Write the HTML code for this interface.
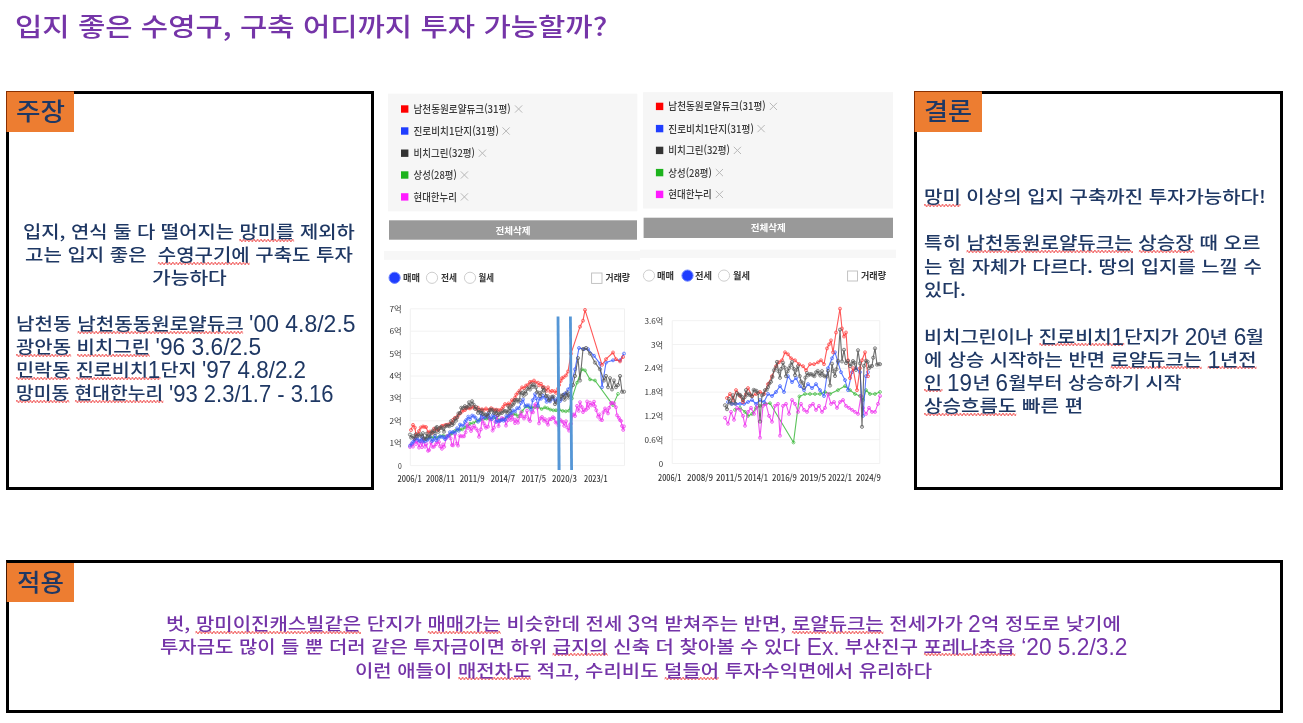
<!DOCTYPE html><html lang="ko"><head><meta charset="utf-8"><title>slide</title><style>
*{box-sizing:border-box;margin:0;padding:0}
html,body{width:1303px;height:723px;overflow:hidden;background:#fff}
body{position:relative;font-family:"Liberation Sans","Noto Sans CJK KR",sans-serif}
.ln{position:absolute;white-space:nowrap;line-height:30px;height:30px;transform-origin:0 0;font-family:"Noto Sans CJK KR","Liberation Sans",sans-serif;font-weight:500}
.l{display:inline-block;font-family:"Liberation Sans","Noto Sans CJK KR",sans-serif;font-size:1.36em;line-height:1;vertical-align:-0.09em;transform:scaleX(0.84);transform-origin:0 0}
.sp{background-image:radial-gradient(circle at 0.9px 0.9px,#f37575 0.7px,transparent 1.0px),radial-gradient(circle at 2.4px 2.1px,#f37575 0.7px,transparent 1.0px);background-size:3px 3px;background-repeat:repeat-x;background-position:0 calc(100% - 1.4px)}


.box{position:absolute;border:3px solid #000;background:#fff}
.tag{position:absolute;background:#ED7D31}

</style></head><body>

<div class="box" style="left:6px;top:91px;width:368px;height:399px"></div>
<div class="tag" style="left:6px;top:91px;width:68px;height:41px;border-top:1px solid #8a3000;border-left:1px solid #8a3000"></div>
<div class="box" style="left:914px;top:91px;width:369px;height:399px"></div>
<div class="tag" style="left:914px;top:91px;width:68px;height:41px;border-top:1px solid #8a3000;border-left:1px solid #8a3000"></div>
<div class="box" style="left:6px;top:560px;width:1277px;height:153px"></div>
<div class="tag" style="left:6px;top:560px;width:68px;height:42px;border-top:3px solid #000;border-left:1px solid #4a1a00"></div>
<svg id="ch" width="1303" height="723" viewBox="0 0 1303 723" style="position:absolute;left:0;top:0" font-family="'Noto Sans CJK KR','Liberation Sans',sans-serif"><rect x="388.0" y="93.7" width="249.3" height="117.6" fill="#f6f6f6"/>
<rect x="401.0" y="105.3" width="7.4" height="7.4" fill="#ff0000"/>
<text x="413.5" y="112.9" font-size="10.6" fill="#3a3a3a" textLength="97.3" lengthAdjust="spacingAndGlyphs" font-weight="500">남천동원로얄듀크(31평)</text>
<path d="M515.0 105.4L522.2 112.6M515.0 112.6L522.2 105.4" stroke="#b8b8b8" stroke-width="1" fill="none"/>
<rect x="401.0" y="127.3" width="7.4" height="7.4" fill="#1f3dff"/>
<text x="413.5" y="134.9" font-size="10.6" fill="#3a3a3a" textLength="85.4" lengthAdjust="spacingAndGlyphs" font-weight="500">진로비치1단지(31평)</text>
<path d="M502.5 127.4L509.7 134.6M502.5 134.6L509.7 127.4" stroke="#b8b8b8" stroke-width="1" fill="none"/>
<rect x="401.0" y="149.5" width="7.4" height="7.4" fill="#333333"/>
<text x="413.5" y="157.1" font-size="10.6" fill="#3a3a3a" textLength="61.5" lengthAdjust="spacingAndGlyphs" font-weight="500">비치그린(32평)</text>
<path d="M478.8 149.6L486.0 156.8M478.8 156.8L486.0 149.6" stroke="#b8b8b8" stroke-width="1" fill="none"/>
<rect x="401.0" y="171.3" width="7.4" height="7.4" fill="#1db31d"/>
<text x="413.5" y="178.9" font-size="10.6" fill="#3a3a3a" textLength="43.3" lengthAdjust="spacingAndGlyphs" font-weight="500">상성(28평)</text>
<path d="M460.8 171.4L468.0 178.6M460.8 178.6L468.0 171.4" stroke="#b8b8b8" stroke-width="1" fill="none"/>
<rect x="401.0" y="193.2" width="7.4" height="7.4" fill="#ff1aff"/>
<text x="413.5" y="200.8" font-size="10.6" fill="#3a3a3a" textLength="43.3" lengthAdjust="spacingAndGlyphs" font-weight="500">현대한누리</text>
<path d="M460.8 193.3L468.0 200.5M460.8 200.5L468.0 193.3" stroke="#b8b8b8" stroke-width="1" fill="none"/>
<rect x="389.0" y="220.3" width="248.0" height="19.4" fill="#999999"/>
<text x="513.0" y="233.6" font-size="9.5" fill="#ffffff" text-anchor="middle" font-weight="700">전체삭제</text>
<rect x="384.0" y="251.0" width="256.0" height="8.8" fill="#f7f7f7"/>
<circle cx="394.6" cy="277.8" r="5.6" fill="#1f3dff" stroke="#6f86ff" stroke-width="1"/>
<text x="403.0" y="281.2" font-size="9.6" fill="#333" textLength="17.0" lengthAdjust="spacingAndGlyphs" font-weight="700">매매</text>
<circle cx="432.0" cy="277.8" r="5.6" fill="#fff" stroke="#c8c8c8" stroke-width="0.9"/>
<text x="441.0" y="281.2" font-size="9.6" fill="#333" textLength="16.0" lengthAdjust="spacingAndGlyphs" font-weight="700">전세</text>
<circle cx="470.0" cy="277.8" r="5.6" fill="#fff" stroke="#c8c8c8" stroke-width="0.9"/>
<text x="478.5" y="281.2" font-size="9.6" fill="#333" textLength="15.5" lengthAdjust="spacingAndGlyphs" font-weight="700">월세</text>
<rect x="591.6" y="273.0" width="10.4" height="10.4" fill="#fff" stroke="#bdbdbd" stroke-width="0.9"/>
<text x="605.6" y="281.2" font-size="9.6" fill="#333" textLength="24.4" lengthAdjust="spacingAndGlyphs" font-weight="700">거래량</text>
<rect x="643.1" y="92.2" width="249.9" height="116.3" fill="#f6f6f6"/>
<rect x="655.9" y="102.7" width="7.4" height="7.4" fill="#ff0000"/>
<text x="668.3" y="110.3" font-size="10.6" fill="#3a3a3a" textLength="97.5" lengthAdjust="spacingAndGlyphs" font-weight="500">남천동원로얄듀크(31평)</text>
<path d="M769.8 102.8L777.0 110.0M769.8 110.0L777.0 102.8" stroke="#b8b8b8" stroke-width="1" fill="none"/>
<rect x="655.9" y="124.9" width="7.4" height="7.4" fill="#1f3dff"/>
<text x="668.3" y="132.5" font-size="10.6" fill="#3a3a3a" textLength="85.6" lengthAdjust="spacingAndGlyphs" font-weight="500">진로비치1단지(31평)</text>
<path d="M757.5 125.0L764.7 132.2M757.5 132.2L764.7 125.0" stroke="#b8b8b8" stroke-width="1" fill="none"/>
<rect x="655.9" y="146.7" width="7.4" height="7.4" fill="#333333"/>
<text x="668.3" y="154.3" font-size="10.6" fill="#3a3a3a" textLength="61.7" lengthAdjust="spacingAndGlyphs" font-weight="500">비치그린(32평)</text>
<path d="M733.8 146.8L741.0 154.0M733.8 154.0L741.0 146.8" stroke="#b8b8b8" stroke-width="1" fill="none"/>
<rect x="655.9" y="168.9" width="7.4" height="7.4" fill="#1db31d"/>
<text x="668.3" y="176.5" font-size="10.6" fill="#3a3a3a" textLength="43.5" lengthAdjust="spacingAndGlyphs" font-weight="500">상성(28평)</text>
<path d="M715.8 169.0L723.0 176.2M715.8 176.2L723.0 169.0" stroke="#b8b8b8" stroke-width="1" fill="none"/>
<rect x="655.9" y="190.7" width="7.4" height="7.4" fill="#ff1aff"/>
<text x="668.3" y="198.3" font-size="10.6" fill="#3a3a3a" textLength="43.5" lengthAdjust="spacingAndGlyphs" font-weight="500">현대한누리</text>
<path d="M715.8 190.8L723.0 198.0M715.8 198.0L723.0 190.8" stroke="#b8b8b8" stroke-width="1" fill="none"/>
<rect x="643.6" y="217.7" width="249.4" height="20.3" fill="#999999"/>
<text x="768.3" y="231.4" font-size="9.5" fill="#ffffff" text-anchor="middle" font-weight="700">전체삭제</text>
<rect x="640.0" y="249.6" width="256.0" height="8.4" fill="#f7f7f7"/>
<circle cx="649.0" cy="275.6" r="5.6" fill="#fff" stroke="#c8c8c8" stroke-width="0.9"/>
<text x="657.0" y="279.0" font-size="9.6" fill="#333" textLength="17.0" lengthAdjust="spacingAndGlyphs" font-weight="700">매매</text>
<circle cx="687.5" cy="275.6" r="5.6" fill="#1f3dff" stroke="#6f86ff" stroke-width="1"/>
<text x="695.0" y="279.0" font-size="9.6" fill="#333" textLength="17.0" lengthAdjust="spacingAndGlyphs" font-weight="700">전세</text>
<circle cx="724.0" cy="275.6" r="5.6" fill="#fff" stroke="#c8c8c8" stroke-width="0.9"/>
<text x="733.0" y="279.0" font-size="9.6" fill="#333" textLength="17.0" lengthAdjust="spacingAndGlyphs" font-weight="700">월세</text>
<rect x="847.6" y="271.0" width="9.9" height="10.0" fill="#fff" stroke="#bdbdbd" stroke-width="0.9"/>
<text x="861.0" y="279.0" font-size="9.6" fill="#333" textLength="25.0" lengthAdjust="spacingAndGlyphs" font-weight="700">거래량</text>
<line x1="410.3" y1="308.8" x2="624.5" y2="308.8" stroke="#f2f2f2" stroke-width="1"/>
<line x1="410.3" y1="331.2" x2="624.5" y2="331.2" stroke="#f2f2f2" stroke-width="1"/>
<line x1="410.3" y1="353.6" x2="624.5" y2="353.6" stroke="#f2f2f2" stroke-width="1"/>
<line x1="410.3" y1="376.0" x2="624.5" y2="376.0" stroke="#f2f2f2" stroke-width="1"/>
<line x1="410.3" y1="398.4" x2="624.5" y2="398.4" stroke="#f2f2f2" stroke-width="1"/>
<line x1="410.3" y1="420.8" x2="624.5" y2="420.8" stroke="#f2f2f2" stroke-width="1"/>
<line x1="410.3" y1="443.2" x2="624.5" y2="443.2" stroke="#f2f2f2" stroke-width="1"/>
<line x1="410.3" y1="465.6" x2="624.5" y2="465.6" stroke="#f2f2f2" stroke-width="1"/>
<text x="389.5" y="311.8" font-size="7.8" fill="#333" textLength="12.2" lengthAdjust="spacingAndGlyphs" font-weight="400">7억</text>
<text x="389.5" y="334.2" font-size="7.8" fill="#333" textLength="12.2" lengthAdjust="spacingAndGlyphs" font-weight="400">6억</text>
<text x="389.5" y="356.6" font-size="7.8" fill="#333" textLength="12.2" lengthAdjust="spacingAndGlyphs" font-weight="400">5억</text>
<text x="389.5" y="379.0" font-size="7.8" fill="#333" textLength="12.2" lengthAdjust="spacingAndGlyphs" font-weight="400">4억</text>
<text x="389.5" y="401.4" font-size="7.8" fill="#333" textLength="12.2" lengthAdjust="spacingAndGlyphs" font-weight="400">3억</text>
<text x="389.5" y="423.8" font-size="7.8" fill="#333" textLength="12.2" lengthAdjust="spacingAndGlyphs" font-weight="400">2억</text>
<text x="389.5" y="446.2" font-size="7.8" fill="#333" textLength="12.2" lengthAdjust="spacingAndGlyphs" font-weight="400">1억</text>
<text x="398.0" y="468.6" font-size="7.8" fill="#333" textLength="3.8" lengthAdjust="spacingAndGlyphs" font-weight="400">0</text>
<line x1="410.3" y1="308.8" x2="410.3" y2="465.6" stroke="#f0f0f0" stroke-width="1"/>
<line x1="624.5" y1="308.8" x2="624.5" y2="465.6" stroke="#f0f0f0" stroke-width="1"/>
<text x="397.5" y="481.6" font-size="8.6" fill="#333" textLength="24.2" lengthAdjust="spacingAndGlyphs" font-weight="500">2006/1</text>
<text x="426.0" y="481.6" font-size="8.6" fill="#333" textLength="28.7" lengthAdjust="spacingAndGlyphs" font-weight="500">2008/11</text>
<text x="459.7" y="481.6" font-size="8.6" fill="#333" textLength="24.9" lengthAdjust="spacingAndGlyphs" font-weight="500">2011/9</text>
<text x="490.8" y="481.6" font-size="8.6" fill="#333" textLength="24.2" lengthAdjust="spacingAndGlyphs" font-weight="500">2014/7</text>
<text x="521.5" y="481.6" font-size="8.6" fill="#333" textLength="24.5" lengthAdjust="spacingAndGlyphs" font-weight="500">2017/5</text>
<text x="552.0" y="481.6" font-size="8.6" fill="#333" textLength="25.0" lengthAdjust="spacingAndGlyphs" font-weight="500">2020/3</text>
<text x="584.0" y="481.6" font-size="8.6" fill="#333" textLength="23.6" lengthAdjust="spacingAndGlyphs" font-weight="500">2023/1</text>
<polyline points="425.0,438.8 427.8,438.0 430.0,437.7 433.4,437.2 436.7,437.6 440.0,436.2 443.1,435.5 446.4,436.2 450.0,434.7 452.2,433.2 455.0,430.9 457.6,429.8 460.0,429.5 462.2,429.4 465.0,427.5 467.3,426.3 470.0,423.6 473.3,423.0 476.9,420.9 480.0,419.6 483.3,419.0 486.6,418.6 490.0,419.1 493.6,417.8 496.8,418.5 500.0,420.1 503.2,418.8 506.8,417.7 510.0,415.4 512.6,414.4 515.5,414.2 518.0,416.3 522.0,411.4 526.0,406.4 529.3,407.4 531.7,407.6 535.0,407.1 538.2,407.1 541.6,409.0 545.0,407.4 547.5,408.2 550.3,409.6 553.4,410.3 556.0,410.3 559.2,409.7 562.6,410.9 565.8,411.3 569.0,410.7 572.0,398.4 577.0,382.7 582.0,369.3 585.0,370.4 590.0,379.4 595.0,380.5 613.0,405.1 618.0,393.9" fill="none" stroke="#3cb83c" stroke-width="1.1" stroke-linejoin="round" opacity="0.85"/>
<g fill="none" stroke="#3cb83c" stroke-width="0.9" opacity="0.8"><circle cx="425.0" cy="438.8" r="1.4"/><circle cx="427.8" cy="438.0" r="1.4"/><circle cx="430.0" cy="437.7" r="1.4"/><circle cx="433.4" cy="437.2" r="1.4"/><circle cx="436.7" cy="437.6" r="1.4"/><circle cx="440.0" cy="436.2" r="1.4"/><circle cx="443.1" cy="435.5" r="1.4"/><circle cx="446.4" cy="436.2" r="1.4"/><circle cx="450.0" cy="434.7" r="1.4"/><circle cx="452.2" cy="433.2" r="1.4"/><circle cx="455.0" cy="430.9" r="1.4"/><circle cx="457.6" cy="429.8" r="1.4"/><circle cx="460.0" cy="429.5" r="1.4"/><circle cx="462.2" cy="429.4" r="1.4"/><circle cx="465.0" cy="427.5" r="1.4"/><circle cx="467.3" cy="426.3" r="1.4"/><circle cx="470.0" cy="423.6" r="1.4"/><circle cx="473.3" cy="423.0" r="1.4"/><circle cx="476.9" cy="420.9" r="1.4"/><circle cx="480.0" cy="419.6" r="1.4"/><circle cx="483.3" cy="419.0" r="1.4"/><circle cx="486.6" cy="418.6" r="1.4"/><circle cx="490.0" cy="419.1" r="1.4"/><circle cx="493.6" cy="417.8" r="1.4"/><circle cx="496.8" cy="418.5" r="1.4"/><circle cx="500.0" cy="420.1" r="1.4"/><circle cx="503.2" cy="418.8" r="1.4"/><circle cx="506.8" cy="417.7" r="1.4"/><circle cx="510.0" cy="415.4" r="1.4"/><circle cx="512.6" cy="414.4" r="1.4"/><circle cx="515.5" cy="414.2" r="1.4"/><circle cx="518.0" cy="416.3" r="1.4"/><circle cx="522.0" cy="411.4" r="1.4"/><circle cx="526.0" cy="406.4" r="1.4"/><circle cx="529.3" cy="407.4" r="1.4"/><circle cx="531.7" cy="407.6" r="1.4"/><circle cx="535.0" cy="407.1" r="1.4"/><circle cx="538.2" cy="407.1" r="1.4"/><circle cx="541.6" cy="409.0" r="1.4"/><circle cx="545.0" cy="407.4" r="1.4"/><circle cx="547.5" cy="408.2" r="1.4"/><circle cx="550.3" cy="409.6" r="1.4"/><circle cx="553.4" cy="410.3" r="1.4"/><circle cx="556.0" cy="410.3" r="1.4"/><circle cx="559.2" cy="409.7" r="1.4"/><circle cx="562.6" cy="410.9" r="1.4"/><circle cx="565.8" cy="411.3" r="1.4"/><circle cx="569.0" cy="410.7" r="1.4"/><circle cx="572.0" cy="398.4" r="1.4"/><circle cx="577.0" cy="382.7" r="1.4"/><circle cx="582.0" cy="369.3" r="1.4"/><circle cx="585.0" cy="370.4" r="1.4"/><circle cx="590.0" cy="379.4" r="1.4"/><circle cx="595.0" cy="380.5" r="1.4"/><circle cx="613.0" cy="405.1" r="1.4"/><circle cx="618.0" cy="393.9" r="1.4"/></g>
<polyline points="410.0,447.0 411.2,444.5 413.0,446.6 414.8,438.6 416.0,444.0 417.2,440.5 419.0,447.6 420.6,441.4 422.0,447.1 423.2,438.9 425.0,446.7 426.3,443.9 428.0,450.8 429.1,450.2 431.0,442.4 432.6,446.9 434.0,446.7 436.0,444.2 437.0,442.2 438.9,441.9 440.0,446.3 441.9,448.8 443.0,444.5 444.2,446.8 446.0,438.6 447.2,436.1 449.0,435.4 450.6,438.3 452.0,445.1 453.0,445.4 455.0,434.2 456.7,443.5 458.0,445.6 459.6,435.5 461.0,436.3 462.7,436.3 464.0,436.3 465.6,432.4 467.0,424.0 468.3,428.1 470.0,426.8 471.0,431.0 473.0,427.6 474.1,425.8 476.0,428.5 477.6,430.5 479.0,436.8 480.9,429.4 482.0,418.3 483.7,423.2 485.0,425.6 486.0,427.7 488.0,426.7 489.7,419.0 491.0,419.6 492.6,430.6 494.0,427.7 495.3,421.9 497.0,415.9 498.5,426.1 500.0,420.7 501.7,418.0 503.0,418.8 504.9,419.6 506.0,425.6 507.9,420.1 509.0,416.0 510.8,419.9 512.0,415.0 513.6,419.5 515.0,423.1 516.6,419.4 518.0,422.7 520.0,416.1 521.0,412.6 522.4,416.3 524.0,418.5 525.4,416.6 527.0,410.7 528.8,419.3 530.0,421.0 531.5,412.0 533.0,412.3 534.5,405.4 536.0,404.0 537.3,407.7 539.0,423.4 540.7,418.3 542.0,417.0 543.9,420.7 545.0,419.2 546.9,422.5 548.0,424.7 549.2,419.2 551.0,419.2 552.9,417.2 554.0,418.2 555.6,422.5 557.0,422.6 558.5,425.5 560.0,419.7 561.7,421.3 563.0,422.0 564.2,425.8 566.0,421.3 567.2,427.5 569.0,430.6 570.0,424.6 571.0,423.7 573.0,414.7 574.0,414.5 575.0,416.0 577.0,405.9 578.7,410.8 580.0,402.2 581.8,407.0 583.0,412.1 584.5,409.8 586.0,409.8 587.1,401.5 588.2,407.9 590.0,402.7 591.5,405.3 593.0,404.0 594.0,401.7 595.0,406.3 596.3,410.2 598.0,416.7 599.5,414.4 600.4,419.5 602.0,420.1 603.5,412.1 605.0,408.5 606.4,410.4 608.0,413.4 609.1,407.8 611.0,403.1 612.1,402.9 614.0,403.3 615.9,407.2 617.0,415.3 618.9,417.9 620.0,420.1 621.0,420.9 622.0,426.0 623.2,429.9 624.0,426.4" fill="none" stroke="#ee33ee" stroke-width="1.1" stroke-linejoin="round" opacity="0.85"/>
<g fill="none" stroke="#ee33ee" stroke-width="0.9" opacity="0.8"><circle cx="410.0" cy="447.0" r="1.5"/><circle cx="411.2" cy="444.5" r="1.5"/><circle cx="413.0" cy="446.6" r="1.5"/><circle cx="414.8" cy="438.6" r="1.5"/><circle cx="416.0" cy="444.0" r="1.5"/><circle cx="417.2" cy="440.5" r="1.5"/><circle cx="419.0" cy="447.6" r="1.5"/><circle cx="420.6" cy="441.4" r="1.5"/><circle cx="422.0" cy="447.1" r="1.5"/><circle cx="423.2" cy="438.9" r="1.5"/><circle cx="425.0" cy="446.7" r="1.5"/><circle cx="426.3" cy="443.9" r="1.5"/><circle cx="428.0" cy="450.8" r="1.5"/><circle cx="429.1" cy="450.2" r="1.5"/><circle cx="431.0" cy="442.4" r="1.5"/><circle cx="432.6" cy="446.9" r="1.5"/><circle cx="434.0" cy="446.7" r="1.5"/><circle cx="436.0" cy="444.2" r="1.5"/><circle cx="437.0" cy="442.2" r="1.5"/><circle cx="438.9" cy="441.9" r="1.5"/><circle cx="440.0" cy="446.3" r="1.5"/><circle cx="441.9" cy="448.8" r="1.5"/><circle cx="443.0" cy="444.5" r="1.5"/><circle cx="444.2" cy="446.8" r="1.5"/><circle cx="446.0" cy="438.6" r="1.5"/><circle cx="447.2" cy="436.1" r="1.5"/><circle cx="449.0" cy="435.4" r="1.5"/><circle cx="450.6" cy="438.3" r="1.5"/><circle cx="452.0" cy="445.1" r="1.5"/><circle cx="453.0" cy="445.4" r="1.5"/><circle cx="455.0" cy="434.2" r="1.5"/><circle cx="456.7" cy="443.5" r="1.5"/><circle cx="458.0" cy="445.6" r="1.5"/><circle cx="459.6" cy="435.5" r="1.5"/><circle cx="461.0" cy="436.3" r="1.5"/><circle cx="462.7" cy="436.3" r="1.5"/><circle cx="464.0" cy="436.3" r="1.5"/><circle cx="465.6" cy="432.4" r="1.5"/><circle cx="467.0" cy="424.0" r="1.5"/><circle cx="468.3" cy="428.1" r="1.5"/><circle cx="470.0" cy="426.8" r="1.5"/><circle cx="471.0" cy="431.0" r="1.5"/><circle cx="473.0" cy="427.6" r="1.5"/><circle cx="474.1" cy="425.8" r="1.5"/><circle cx="476.0" cy="428.5" r="1.5"/><circle cx="477.6" cy="430.5" r="1.5"/><circle cx="479.0" cy="436.8" r="1.5"/><circle cx="480.9" cy="429.4" r="1.5"/><circle cx="482.0" cy="418.3" r="1.5"/><circle cx="483.7" cy="423.2" r="1.5"/><circle cx="485.0" cy="425.6" r="1.5"/><circle cx="486.0" cy="427.7" r="1.5"/><circle cx="488.0" cy="426.7" r="1.5"/><circle cx="489.7" cy="419.0" r="1.5"/><circle cx="491.0" cy="419.6" r="1.5"/><circle cx="492.6" cy="430.6" r="1.5"/><circle cx="494.0" cy="427.7" r="1.5"/><circle cx="495.3" cy="421.9" r="1.5"/><circle cx="497.0" cy="415.9" r="1.5"/><circle cx="498.5" cy="426.1" r="1.5"/><circle cx="500.0" cy="420.7" r="1.5"/><circle cx="501.7" cy="418.0" r="1.5"/><circle cx="503.0" cy="418.8" r="1.5"/><circle cx="504.9" cy="419.6" r="1.5"/><circle cx="506.0" cy="425.6" r="1.5"/><circle cx="507.9" cy="420.1" r="1.5"/><circle cx="509.0" cy="416.0" r="1.5"/><circle cx="510.8" cy="419.9" r="1.5"/><circle cx="512.0" cy="415.0" r="1.5"/><circle cx="513.6" cy="419.5" r="1.5"/><circle cx="515.0" cy="423.1" r="1.5"/><circle cx="516.6" cy="419.4" r="1.5"/><circle cx="518.0" cy="422.7" r="1.5"/><circle cx="520.0" cy="416.1" r="1.5"/><circle cx="521.0" cy="412.6" r="1.5"/><circle cx="522.4" cy="416.3" r="1.5"/><circle cx="524.0" cy="418.5" r="1.5"/><circle cx="525.4" cy="416.6" r="1.5"/><circle cx="527.0" cy="410.7" r="1.5"/><circle cx="528.8" cy="419.3" r="1.5"/><circle cx="530.0" cy="421.0" r="1.5"/><circle cx="531.5" cy="412.0" r="1.5"/><circle cx="533.0" cy="412.3" r="1.5"/><circle cx="534.5" cy="405.4" r="1.5"/><circle cx="536.0" cy="404.0" r="1.5"/><circle cx="537.3" cy="407.7" r="1.5"/><circle cx="539.0" cy="423.4" r="1.5"/><circle cx="540.7" cy="418.3" r="1.5"/><circle cx="542.0" cy="417.0" r="1.5"/><circle cx="543.9" cy="420.7" r="1.5"/><circle cx="545.0" cy="419.2" r="1.5"/><circle cx="546.9" cy="422.5" r="1.5"/><circle cx="548.0" cy="424.7" r="1.5"/><circle cx="549.2" cy="419.2" r="1.5"/><circle cx="551.0" cy="419.2" r="1.5"/><circle cx="552.9" cy="417.2" r="1.5"/><circle cx="554.0" cy="418.2" r="1.5"/><circle cx="555.6" cy="422.5" r="1.5"/><circle cx="557.0" cy="422.6" r="1.5"/><circle cx="558.5" cy="425.5" r="1.5"/><circle cx="560.0" cy="419.7" r="1.5"/><circle cx="561.7" cy="421.3" r="1.5"/><circle cx="563.0" cy="422.0" r="1.5"/><circle cx="564.2" cy="425.8" r="1.5"/><circle cx="566.0" cy="421.3" r="1.5"/><circle cx="567.2" cy="427.5" r="1.5"/><circle cx="569.0" cy="430.6" r="1.5"/><circle cx="570.0" cy="424.6" r="1.5"/><circle cx="571.0" cy="423.7" r="1.5"/><circle cx="573.0" cy="414.7" r="1.5"/><circle cx="574.0" cy="414.5" r="1.5"/><circle cx="575.0" cy="416.0" r="1.5"/><circle cx="577.0" cy="405.9" r="1.5"/><circle cx="578.7" cy="410.8" r="1.5"/><circle cx="580.0" cy="402.2" r="1.5"/><circle cx="581.8" cy="407.0" r="1.5"/><circle cx="583.0" cy="412.1" r="1.5"/><circle cx="584.5" cy="409.8" r="1.5"/><circle cx="586.0" cy="409.8" r="1.5"/><circle cx="587.1" cy="401.5" r="1.5"/><circle cx="588.2" cy="407.9" r="1.5"/><circle cx="590.0" cy="402.7" r="1.5"/><circle cx="591.5" cy="405.3" r="1.5"/><circle cx="593.0" cy="404.0" r="1.5"/><circle cx="594.0" cy="401.7" r="1.5"/><circle cx="595.0" cy="406.3" r="1.5"/><circle cx="596.3" cy="410.2" r="1.5"/><circle cx="598.0" cy="416.7" r="1.5"/><circle cx="599.5" cy="414.4" r="1.5"/><circle cx="600.4" cy="419.5" r="1.5"/><circle cx="602.0" cy="420.1" r="1.5"/><circle cx="603.5" cy="412.1" r="1.5"/><circle cx="605.0" cy="408.5" r="1.5"/><circle cx="606.4" cy="410.4" r="1.5"/><circle cx="608.0" cy="413.4" r="1.5"/><circle cx="609.1" cy="407.8" r="1.5"/><circle cx="611.0" cy="403.1" r="1.5"/><circle cx="612.1" cy="402.9" r="1.5"/><circle cx="614.0" cy="403.3" r="1.5"/><circle cx="615.9" cy="407.2" r="1.5"/><circle cx="617.0" cy="415.3" r="1.5"/><circle cx="618.9" cy="417.9" r="1.5"/><circle cx="620.0" cy="420.1" r="1.5"/><circle cx="621.0" cy="420.9" r="1.5"/><circle cx="622.0" cy="426.0" r="1.5"/><circle cx="623.2" cy="429.9" r="1.5"/><circle cx="624.0" cy="426.4" r="1.5"/></g>
<polyline points="410.0,445.7 412.0,443.4 413.2,441.8 415.0,439.6 417.1,438.3 418.6,440.4 420.0,441.0 422.0,437.6 422.9,441.5 425.0,441.3 426.9,439.9 427.9,439.5 430.0,436.8 432.0,441.1 433.2,440.0 435.0,435.8 436.3,440.2 438.6,438.2 440.0,436.6 442.1,436.8 443.8,437.3 445.0,439.1 446.7,437.1 448.6,435.6 450.0,432.2 452.0,432.6 453.1,432.0 455.0,432.7 457.1,428.3 458.7,430.8 460.0,424.6 461.7,425.5 463.4,425.7 465.0,421.9 466.2,420.1 468.3,416.7 470.0,419.2 472.1,415.6 474.0,416.4 475.6,417.9 478.0,421.7 480.0,419.7 481.0,413.7 483.0,417.2 485.0,417.5 487.0,416.0 488.3,413.4 490.0,417.5 491.8,419.0 493.0,415.1 495.0,416.8 496.4,421.9 498.5,421.0 500.0,420.8 501.8,419.8 503.6,420.7 505.0,419.8 506.4,415.9 508.4,416.3 510.0,413.4 511.6,412.6 513.0,410.5 515.0,411.5 517.1,408.2 519.0,408.3 521.1,402.9 523.0,399.5 525.2,406.2 527.0,405.4 528.8,405.4 531.0,409.6 532.7,400.2 535.0,394.2 536.1,398.2 538.0,405.6 539.3,398.7 541.0,398.7 542.9,395.8 545.0,397.7 546.6,401.9 547.9,398.4 550.0,401.4 551.9,398.7 552.6,397.1 554.8,400.3 556.0,400.6 557.7,398.4 560.0,401.1 561.2,399.4 563.3,395.1 565.0,393.5 566.2,393.9 568.0,389.4 571.0,385.0 575.0,369.3 579.0,348.0 584.0,349.1 588.0,349.1 594.0,355.8 600.0,363.7 602.0,387.2 606.0,362.6 613.0,360.3 620.0,360.3 624.0,353.6" fill="none" stroke="#3a5cff" stroke-width="1.1" stroke-linejoin="round" opacity="0.85"/>
<g fill="none" stroke="#3a5cff" stroke-width="0.9" opacity="0.8"><circle cx="410.0" cy="445.7" r="1.5"/><circle cx="412.0" cy="443.4" r="1.5"/><circle cx="413.2" cy="441.8" r="1.5"/><circle cx="415.0" cy="439.6" r="1.5"/><circle cx="417.1" cy="438.3" r="1.5"/><circle cx="418.6" cy="440.4" r="1.5"/><circle cx="420.0" cy="441.0" r="1.5"/><circle cx="422.0" cy="437.6" r="1.5"/><circle cx="422.9" cy="441.5" r="1.5"/><circle cx="425.0" cy="441.3" r="1.5"/><circle cx="426.9" cy="439.9" r="1.5"/><circle cx="427.9" cy="439.5" r="1.5"/><circle cx="430.0" cy="436.8" r="1.5"/><circle cx="432.0" cy="441.1" r="1.5"/><circle cx="433.2" cy="440.0" r="1.5"/><circle cx="435.0" cy="435.8" r="1.5"/><circle cx="436.3" cy="440.2" r="1.5"/><circle cx="438.6" cy="438.2" r="1.5"/><circle cx="440.0" cy="436.6" r="1.5"/><circle cx="442.1" cy="436.8" r="1.5"/><circle cx="443.8" cy="437.3" r="1.5"/><circle cx="445.0" cy="439.1" r="1.5"/><circle cx="446.7" cy="437.1" r="1.5"/><circle cx="448.6" cy="435.6" r="1.5"/><circle cx="450.0" cy="432.2" r="1.5"/><circle cx="452.0" cy="432.6" r="1.5"/><circle cx="453.1" cy="432.0" r="1.5"/><circle cx="455.0" cy="432.7" r="1.5"/><circle cx="457.1" cy="428.3" r="1.5"/><circle cx="458.7" cy="430.8" r="1.5"/><circle cx="460.0" cy="424.6" r="1.5"/><circle cx="461.7" cy="425.5" r="1.5"/><circle cx="463.4" cy="425.7" r="1.5"/><circle cx="465.0" cy="421.9" r="1.5"/><circle cx="466.2" cy="420.1" r="1.5"/><circle cx="468.3" cy="416.7" r="1.5"/><circle cx="470.0" cy="419.2" r="1.5"/><circle cx="472.1" cy="415.6" r="1.5"/><circle cx="474.0" cy="416.4" r="1.5"/><circle cx="475.6" cy="417.9" r="1.5"/><circle cx="478.0" cy="421.7" r="1.5"/><circle cx="480.0" cy="419.7" r="1.5"/><circle cx="481.0" cy="413.7" r="1.5"/><circle cx="483.0" cy="417.2" r="1.5"/><circle cx="485.0" cy="417.5" r="1.5"/><circle cx="487.0" cy="416.0" r="1.5"/><circle cx="488.3" cy="413.4" r="1.5"/><circle cx="490.0" cy="417.5" r="1.5"/><circle cx="491.8" cy="419.0" r="1.5"/><circle cx="493.0" cy="415.1" r="1.5"/><circle cx="495.0" cy="416.8" r="1.5"/><circle cx="496.4" cy="421.9" r="1.5"/><circle cx="498.5" cy="421.0" r="1.5"/><circle cx="500.0" cy="420.8" r="1.5"/><circle cx="501.8" cy="419.8" r="1.5"/><circle cx="503.6" cy="420.7" r="1.5"/><circle cx="505.0" cy="419.8" r="1.5"/><circle cx="506.4" cy="415.9" r="1.5"/><circle cx="508.4" cy="416.3" r="1.5"/><circle cx="510.0" cy="413.4" r="1.5"/><circle cx="511.6" cy="412.6" r="1.5"/><circle cx="513.0" cy="410.5" r="1.5"/><circle cx="515.0" cy="411.5" r="1.5"/><circle cx="517.1" cy="408.2" r="1.5"/><circle cx="519.0" cy="408.3" r="1.5"/><circle cx="521.1" cy="402.9" r="1.5"/><circle cx="523.0" cy="399.5" r="1.5"/><circle cx="525.2" cy="406.2" r="1.5"/><circle cx="527.0" cy="405.4" r="1.5"/><circle cx="528.8" cy="405.4" r="1.5"/><circle cx="531.0" cy="409.6" r="1.5"/><circle cx="532.7" cy="400.2" r="1.5"/><circle cx="535.0" cy="394.2" r="1.5"/><circle cx="536.1" cy="398.2" r="1.5"/><circle cx="538.0" cy="405.6" r="1.5"/><circle cx="539.3" cy="398.7" r="1.5"/><circle cx="541.0" cy="398.7" r="1.5"/><circle cx="542.9" cy="395.8" r="1.5"/><circle cx="545.0" cy="397.7" r="1.5"/><circle cx="546.6" cy="401.9" r="1.5"/><circle cx="547.9" cy="398.4" r="1.5"/><circle cx="550.0" cy="401.4" r="1.5"/><circle cx="551.9" cy="398.7" r="1.5"/><circle cx="552.6" cy="397.1" r="1.5"/><circle cx="554.8" cy="400.3" r="1.5"/><circle cx="556.0" cy="400.6" r="1.5"/><circle cx="557.7" cy="398.4" r="1.5"/><circle cx="560.0" cy="401.1" r="1.5"/><circle cx="561.2" cy="399.4" r="1.5"/><circle cx="563.3" cy="395.1" r="1.5"/><circle cx="565.0" cy="393.5" r="1.5"/><circle cx="566.2" cy="393.9" r="1.5"/><circle cx="568.0" cy="389.4" r="1.5"/><circle cx="571.0" cy="385.0" r="1.5"/><circle cx="575.0" cy="369.3" r="1.5"/><circle cx="579.0" cy="348.0" r="1.5"/><circle cx="584.0" cy="349.1" r="1.5"/><circle cx="588.0" cy="349.1" r="1.5"/><circle cx="594.0" cy="355.8" r="1.5"/><circle cx="600.0" cy="363.7" r="1.5"/><circle cx="602.0" cy="387.2" r="1.5"/><circle cx="606.0" cy="362.6" r="1.5"/><circle cx="613.0" cy="360.3" r="1.5"/><circle cx="620.0" cy="360.3" r="1.5"/><circle cx="624.0" cy="353.6" r="1.5"/></g>
<polyline points="411.0,430.0 413.0,424.9 414.9,427.6 416.0,434.9 418.0,434.0 419.0,431.0 420.8,427.5 423.0,426.5 424.4,426.9 426.0,427.1 428.2,432.5 430.0,431.6 432.0,432.9 434.0,428.7 435.7,429.6 438.0,430.1 439.5,428.0 442.0,425.8 444.2,425.6 446.0,424.8 447.9,424.7 450.0,423.7 452.1,422.6 453.1,419.8 455.0,417.8 456.9,417.1 458.2,415.3 460.0,413.4 461.9,411.6 463.6,410.3 465.0,410.0 466.2,407.5 468.3,408.1 470.0,408.4 472.1,407.4 474.0,406.8 476.4,409.1 478.0,407.7 480.2,409.8 482.0,409.3 483.9,410.0 486.0,408.5 488.2,410.1 490.0,409.5 491.2,408.2 493.6,409.5 495.0,410.7 496.2,409.7 498.2,410.2 500.0,410.3 502.1,408.8 503.3,406.8 505.0,404.1 507.2,404.8 508.6,403.4 510.0,404.8 511.9,400.2 513.8,400.4 515.0,397.7 516.2,394.6 518.0,392.8 519.6,390.6 522.0,387.4 524.0,388.1 526.0,385.6 527.8,385.0 530.0,382.0 531.8,381.9 534.0,380.6 535.5,382.5 538.0,382.7 539.2,385.3 541.0,383.8 542.9,387.1 544.0,387.2 546.5,390.9 548.0,387.4 550.4,391.9 552.0,390.9 554.5,391.2 556.0,392.8 558.0,388.7 559.1,385.0 560.7,381.0 562.0,378.2 563.6,377.3 566.0,375.4 568.0,371.5 571.0,353.6 580.0,326.7 583.0,320.7 585.0,309.9 602.0,364.8 606.0,359.2 613.0,352.5 616.0,359.2 620.0,361.4 623.0,357.0" fill="none" stroke="#ff3a3a" stroke-width="1.1" stroke-linejoin="round" opacity="0.85"/>
<g fill="none" stroke="#ff3a3a" stroke-width="0.9" opacity="0.8"><circle cx="411.0" cy="430.0" r="1.5"/><circle cx="413.0" cy="424.9" r="1.5"/><circle cx="414.9" cy="427.6" r="1.5"/><circle cx="416.0" cy="434.9" r="1.5"/><circle cx="418.0" cy="434.0" r="1.5"/><circle cx="419.0" cy="431.0" r="1.5"/><circle cx="420.8" cy="427.5" r="1.5"/><circle cx="423.0" cy="426.5" r="1.5"/><circle cx="424.4" cy="426.9" r="1.5"/><circle cx="426.0" cy="427.1" r="1.5"/><circle cx="428.2" cy="432.5" r="1.5"/><circle cx="430.0" cy="431.6" r="1.5"/><circle cx="432.0" cy="432.9" r="1.5"/><circle cx="434.0" cy="428.7" r="1.5"/><circle cx="435.7" cy="429.6" r="1.5"/><circle cx="438.0" cy="430.1" r="1.5"/><circle cx="439.5" cy="428.0" r="1.5"/><circle cx="442.0" cy="425.8" r="1.5"/><circle cx="444.2" cy="425.6" r="1.5"/><circle cx="446.0" cy="424.8" r="1.5"/><circle cx="447.9" cy="424.7" r="1.5"/><circle cx="450.0" cy="423.7" r="1.5"/><circle cx="452.1" cy="422.6" r="1.5"/><circle cx="453.1" cy="419.8" r="1.5"/><circle cx="455.0" cy="417.8" r="1.5"/><circle cx="456.9" cy="417.1" r="1.5"/><circle cx="458.2" cy="415.3" r="1.5"/><circle cx="460.0" cy="413.4" r="1.5"/><circle cx="461.9" cy="411.6" r="1.5"/><circle cx="463.6" cy="410.3" r="1.5"/><circle cx="465.0" cy="410.0" r="1.5"/><circle cx="466.2" cy="407.5" r="1.5"/><circle cx="468.3" cy="408.1" r="1.5"/><circle cx="470.0" cy="408.4" r="1.5"/><circle cx="472.1" cy="407.4" r="1.5"/><circle cx="474.0" cy="406.8" r="1.5"/><circle cx="476.4" cy="409.1" r="1.5"/><circle cx="478.0" cy="407.7" r="1.5"/><circle cx="480.2" cy="409.8" r="1.5"/><circle cx="482.0" cy="409.3" r="1.5"/><circle cx="483.9" cy="410.0" r="1.5"/><circle cx="486.0" cy="408.5" r="1.5"/><circle cx="488.2" cy="410.1" r="1.5"/><circle cx="490.0" cy="409.5" r="1.5"/><circle cx="491.2" cy="408.2" r="1.5"/><circle cx="493.6" cy="409.5" r="1.5"/><circle cx="495.0" cy="410.7" r="1.5"/><circle cx="496.2" cy="409.7" r="1.5"/><circle cx="498.2" cy="410.2" r="1.5"/><circle cx="500.0" cy="410.3" r="1.5"/><circle cx="502.1" cy="408.8" r="1.5"/><circle cx="503.3" cy="406.8" r="1.5"/><circle cx="505.0" cy="404.1" r="1.5"/><circle cx="507.2" cy="404.8" r="1.5"/><circle cx="508.6" cy="403.4" r="1.5"/><circle cx="510.0" cy="404.8" r="1.5"/><circle cx="511.9" cy="400.2" r="1.5"/><circle cx="513.8" cy="400.4" r="1.5"/><circle cx="515.0" cy="397.7" r="1.5"/><circle cx="516.2" cy="394.6" r="1.5"/><circle cx="518.0" cy="392.8" r="1.5"/><circle cx="519.6" cy="390.6" r="1.5"/><circle cx="522.0" cy="387.4" r="1.5"/><circle cx="524.0" cy="388.1" r="1.5"/><circle cx="526.0" cy="385.6" r="1.5"/><circle cx="527.8" cy="385.0" r="1.5"/><circle cx="530.0" cy="382.0" r="1.5"/><circle cx="531.8" cy="381.9" r="1.5"/><circle cx="534.0" cy="380.6" r="1.5"/><circle cx="535.5" cy="382.5" r="1.5"/><circle cx="538.0" cy="382.7" r="1.5"/><circle cx="539.2" cy="385.3" r="1.5"/><circle cx="541.0" cy="383.8" r="1.5"/><circle cx="542.9" cy="387.1" r="1.5"/><circle cx="544.0" cy="387.2" r="1.5"/><circle cx="546.5" cy="390.9" r="1.5"/><circle cx="548.0" cy="387.4" r="1.5"/><circle cx="550.4" cy="391.9" r="1.5"/><circle cx="552.0" cy="390.9" r="1.5"/><circle cx="554.5" cy="391.2" r="1.5"/><circle cx="556.0" cy="392.8" r="1.5"/><circle cx="558.0" cy="388.7" r="1.5"/><circle cx="559.1" cy="385.0" r="1.5"/><circle cx="560.7" cy="381.0" r="1.5"/><circle cx="562.0" cy="378.2" r="1.5"/><circle cx="563.6" cy="377.3" r="1.5"/><circle cx="566.0" cy="375.4" r="1.5"/><circle cx="568.0" cy="371.5" r="1.5"/><circle cx="571.0" cy="353.6" r="1.5"/><circle cx="580.0" cy="326.7" r="1.5"/><circle cx="583.0" cy="320.7" r="1.5"/><circle cx="585.0" cy="309.9" r="1.5"/><circle cx="602.0" cy="364.8" r="1.5"/><circle cx="606.0" cy="359.2" r="1.5"/><circle cx="613.0" cy="352.5" r="1.5"/><circle cx="616.0" cy="359.2" r="1.5"/><circle cx="620.0" cy="361.4" r="1.5"/><circle cx="623.0" cy="357.0" r="1.5"/></g>
<polyline points="410.0,434.6 411.1,437.5 413.0,436.3 414.4,438.6 416.0,434.2 417.1,436.1 418.6,435.5 420.0,434.5 421.8,436.3 422.9,433.2 424.0,438.4 425.7,438.9 426.8,433.7 428.0,436.4 429.5,436.3 430.8,433.4 432.0,432.2 433.0,430.6 435.1,433.4 436.0,427.9 436.9,427.0 438.4,431.8 440.0,428.1 440.9,427.0 442.2,428.0 444.0,431.6 445.4,426.3 446.5,425.5 448.0,425.4 449.2,426.2 451.0,421.3 452.0,425.0 453.6,423.5 454.9,418.8 456.0,420.6 457.1,417.6 458.5,413.4 460.0,413.0 461.3,407.8 463.0,408.1 464.9,406.2 466.0,407.9 467.1,407.2 469.0,402.4 470.1,406.5 472.0,401.3 473.7,404.7 475.0,408.8 476.1,407.1 478.0,412.8 478.9,409.9 480.9,412.9 482.0,410.4 483.0,414.1 484.9,414.4 486.0,415.0 487.5,416.4 489.1,412.8 490.0,409.8 491.3,409.6 492.5,410.0 494.0,413.1 495.8,413.3 496.4,410.5 498.0,415.1 499.2,413.9 500.6,412.6 502.0,412.9 503.6,410.6 505.0,411.2 506.0,411.4 507.6,412.7 508.4,406.1 510.0,410.8 511.4,406.1 513.1,404.6 514.0,402.9 514.9,400.0 517.0,399.9 518.0,401.4 519.6,399.9 520.3,392.6 522.0,393.0 523.6,395.7 524.4,391.4 526.0,393.7 527.4,388.7 528.6,387.5 530.0,389.5 531.5,384.2 532.7,386.9 534.0,384.5 535.9,387.4 537.0,392.3 538.7,392.7 540.0,395.9 541.8,392.3 543.0,387.8 544.6,390.1 546.0,396.0 547.8,396.3 549.0,400.1 550.1,399.5 552.0,396.7 553.4,396.6 555.0,404.1 556.4,402.2 558.0,399.9 558.9,394.7 560.3,399.0 562.0,396.2 563.0,394.9 564.6,399.7 566.0,395.6 566.9,392.5 568.4,397.5 570.0,393.9 573.0,385.0 575.0,376.0 578.0,358.1 580.0,380.5 583.0,349.1 586.0,348.0 590.0,353.6 595.0,362.6 600.0,369.3 604.0,380.5 606.0,376.0 608.0,387.2 610.0,378.2 612.0,389.4 614.0,380.5 616.0,387.2 618.0,385.0 620.0,376.0 622.0,391.7 624.0,391.7" fill="none" stroke="#555555" stroke-width="1.1" stroke-linejoin="round" opacity="0.85"/>
<g fill="none" stroke="#555555" stroke-width="0.9" opacity="0.8"><circle cx="410.0" cy="434.6" r="1.6"/><circle cx="411.1" cy="437.5" r="1.6"/><circle cx="413.0" cy="436.3" r="1.6"/><circle cx="414.4" cy="438.6" r="1.6"/><circle cx="416.0" cy="434.2" r="1.6"/><circle cx="417.1" cy="436.1" r="1.6"/><circle cx="418.6" cy="435.5" r="1.6"/><circle cx="420.0" cy="434.5" r="1.6"/><circle cx="421.8" cy="436.3" r="1.6"/><circle cx="422.9" cy="433.2" r="1.6"/><circle cx="424.0" cy="438.4" r="1.6"/><circle cx="425.7" cy="438.9" r="1.6"/><circle cx="426.8" cy="433.7" r="1.6"/><circle cx="428.0" cy="436.4" r="1.6"/><circle cx="429.5" cy="436.3" r="1.6"/><circle cx="430.8" cy="433.4" r="1.6"/><circle cx="432.0" cy="432.2" r="1.6"/><circle cx="433.0" cy="430.6" r="1.6"/><circle cx="435.1" cy="433.4" r="1.6"/><circle cx="436.0" cy="427.9" r="1.6"/><circle cx="436.9" cy="427.0" r="1.6"/><circle cx="438.4" cy="431.8" r="1.6"/><circle cx="440.0" cy="428.1" r="1.6"/><circle cx="440.9" cy="427.0" r="1.6"/><circle cx="442.2" cy="428.0" r="1.6"/><circle cx="444.0" cy="431.6" r="1.6"/><circle cx="445.4" cy="426.3" r="1.6"/><circle cx="446.5" cy="425.5" r="1.6"/><circle cx="448.0" cy="425.4" r="1.6"/><circle cx="449.2" cy="426.2" r="1.6"/><circle cx="451.0" cy="421.3" r="1.6"/><circle cx="452.0" cy="425.0" r="1.6"/><circle cx="453.6" cy="423.5" r="1.6"/><circle cx="454.9" cy="418.8" r="1.6"/><circle cx="456.0" cy="420.6" r="1.6"/><circle cx="457.1" cy="417.6" r="1.6"/><circle cx="458.5" cy="413.4" r="1.6"/><circle cx="460.0" cy="413.0" r="1.6"/><circle cx="461.3" cy="407.8" r="1.6"/><circle cx="463.0" cy="408.1" r="1.6"/><circle cx="464.9" cy="406.2" r="1.6"/><circle cx="466.0" cy="407.9" r="1.6"/><circle cx="467.1" cy="407.2" r="1.6"/><circle cx="469.0" cy="402.4" r="1.6"/><circle cx="470.1" cy="406.5" r="1.6"/><circle cx="472.0" cy="401.3" r="1.6"/><circle cx="473.7" cy="404.7" r="1.6"/><circle cx="475.0" cy="408.8" r="1.6"/><circle cx="476.1" cy="407.1" r="1.6"/><circle cx="478.0" cy="412.8" r="1.6"/><circle cx="478.9" cy="409.9" r="1.6"/><circle cx="480.9" cy="412.9" r="1.6"/><circle cx="482.0" cy="410.4" r="1.6"/><circle cx="483.0" cy="414.1" r="1.6"/><circle cx="484.9" cy="414.4" r="1.6"/><circle cx="486.0" cy="415.0" r="1.6"/><circle cx="487.5" cy="416.4" r="1.6"/><circle cx="489.1" cy="412.8" r="1.6"/><circle cx="490.0" cy="409.8" r="1.6"/><circle cx="491.3" cy="409.6" r="1.6"/><circle cx="492.5" cy="410.0" r="1.6"/><circle cx="494.0" cy="413.1" r="1.6"/><circle cx="495.8" cy="413.3" r="1.6"/><circle cx="496.4" cy="410.5" r="1.6"/><circle cx="498.0" cy="415.1" r="1.6"/><circle cx="499.2" cy="413.9" r="1.6"/><circle cx="500.6" cy="412.6" r="1.6"/><circle cx="502.0" cy="412.9" r="1.6"/><circle cx="503.6" cy="410.6" r="1.6"/><circle cx="505.0" cy="411.2" r="1.6"/><circle cx="506.0" cy="411.4" r="1.6"/><circle cx="507.6" cy="412.7" r="1.6"/><circle cx="508.4" cy="406.1" r="1.6"/><circle cx="510.0" cy="410.8" r="1.6"/><circle cx="511.4" cy="406.1" r="1.6"/><circle cx="513.1" cy="404.6" r="1.6"/><circle cx="514.0" cy="402.9" r="1.6"/><circle cx="514.9" cy="400.0" r="1.6"/><circle cx="517.0" cy="399.9" r="1.6"/><circle cx="518.0" cy="401.4" r="1.6"/><circle cx="519.6" cy="399.9" r="1.6"/><circle cx="520.3" cy="392.6" r="1.6"/><circle cx="522.0" cy="393.0" r="1.6"/><circle cx="523.6" cy="395.7" r="1.6"/><circle cx="524.4" cy="391.4" r="1.6"/><circle cx="526.0" cy="393.7" r="1.6"/><circle cx="527.4" cy="388.7" r="1.6"/><circle cx="528.6" cy="387.5" r="1.6"/><circle cx="530.0" cy="389.5" r="1.6"/><circle cx="531.5" cy="384.2" r="1.6"/><circle cx="532.7" cy="386.9" r="1.6"/><circle cx="534.0" cy="384.5" r="1.6"/><circle cx="535.9" cy="387.4" r="1.6"/><circle cx="537.0" cy="392.3" r="1.6"/><circle cx="538.7" cy="392.7" r="1.6"/><circle cx="540.0" cy="395.9" r="1.6"/><circle cx="541.8" cy="392.3" r="1.6"/><circle cx="543.0" cy="387.8" r="1.6"/><circle cx="544.6" cy="390.1" r="1.6"/><circle cx="546.0" cy="396.0" r="1.6"/><circle cx="547.8" cy="396.3" r="1.6"/><circle cx="549.0" cy="400.1" r="1.6"/><circle cx="550.1" cy="399.5" r="1.6"/><circle cx="552.0" cy="396.7" r="1.6"/><circle cx="553.4" cy="396.6" r="1.6"/><circle cx="555.0" cy="404.1" r="1.6"/><circle cx="556.4" cy="402.2" r="1.6"/><circle cx="558.0" cy="399.9" r="1.6"/><circle cx="558.9" cy="394.7" r="1.6"/><circle cx="560.3" cy="399.0" r="1.6"/><circle cx="562.0" cy="396.2" r="1.6"/><circle cx="563.0" cy="394.9" r="1.6"/><circle cx="564.6" cy="399.7" r="1.6"/><circle cx="566.0" cy="395.6" r="1.6"/><circle cx="566.9" cy="392.5" r="1.6"/><circle cx="568.4" cy="397.5" r="1.6"/><circle cx="570.0" cy="393.9" r="1.6"/><circle cx="573.0" cy="385.0" r="1.6"/><circle cx="575.0" cy="376.0" r="1.6"/><circle cx="578.0" cy="358.1" r="1.6"/><circle cx="580.0" cy="380.5" r="1.6"/><circle cx="583.0" cy="349.1" r="1.6"/><circle cx="586.0" cy="348.0" r="1.6"/><circle cx="590.0" cy="353.6" r="1.6"/><circle cx="595.0" cy="362.6" r="1.6"/><circle cx="600.0" cy="369.3" r="1.6"/><circle cx="604.0" cy="380.5" r="1.6"/><circle cx="606.0" cy="376.0" r="1.6"/><circle cx="608.0" cy="387.2" r="1.6"/><circle cx="610.0" cy="378.2" r="1.6"/><circle cx="612.0" cy="389.4" r="1.6"/><circle cx="614.0" cy="380.5" r="1.6"/><circle cx="616.0" cy="387.2" r="1.6"/><circle cx="618.0" cy="385.0" r="1.6"/><circle cx="620.0" cy="376.0" r="1.6"/><circle cx="622.0" cy="391.7" r="1.6"/><circle cx="624.0" cy="391.7" r="1.6"/></g>
<line x1="672.2" y1="320.7" x2="879.8" y2="320.7" stroke="#f2f2f2" stroke-width="1"/>
<line x1="672.2" y1="344.5" x2="879.8" y2="344.5" stroke="#f2f2f2" stroke-width="1"/>
<line x1="672.2" y1="368.3" x2="879.8" y2="368.3" stroke="#f2f2f2" stroke-width="1"/>
<line x1="672.2" y1="392.1" x2="879.8" y2="392.1" stroke="#f2f2f2" stroke-width="1"/>
<line x1="672.2" y1="415.9" x2="879.8" y2="415.9" stroke="#f2f2f2" stroke-width="1"/>
<line x1="672.2" y1="439.7" x2="879.8" y2="439.7" stroke="#f2f2f2" stroke-width="1"/>
<line x1="672.2" y1="463.5" x2="879.8" y2="463.5" stroke="#f2f2f2" stroke-width="1"/>
<text x="644.4" y="323.7" font-size="7.8" fill="#333" textLength="18.8" lengthAdjust="spacingAndGlyphs" font-weight="400">3.6억</text>
<text x="651.0" y="347.5" font-size="7.8" fill="#333" textLength="12.2" lengthAdjust="spacingAndGlyphs" font-weight="400">3억</text>
<text x="644.4" y="371.3" font-size="7.8" fill="#333" textLength="18.8" lengthAdjust="spacingAndGlyphs" font-weight="400">2.4억</text>
<text x="644.4" y="395.1" font-size="7.8" fill="#333" textLength="18.8" lengthAdjust="spacingAndGlyphs" font-weight="400">1.8억</text>
<text x="644.4" y="418.9" font-size="7.8" fill="#333" textLength="18.8" lengthAdjust="spacingAndGlyphs" font-weight="400">1.2억</text>
<text x="644.4" y="442.7" font-size="7.8" fill="#333" textLength="18.8" lengthAdjust="spacingAndGlyphs" font-weight="400">0.6억</text>
<text x="658.8" y="466.5" font-size="7.8" fill="#333" textLength="4.4" lengthAdjust="spacingAndGlyphs" font-weight="400">0</text>
<line x1="672.2" y1="320.7" x2="672.2" y2="463.5" stroke="#f0f0f0" stroke-width="1"/>
<line x1="879.8" y1="320.7" x2="879.8" y2="463.5" stroke="#f0f0f0" stroke-width="1"/>
<text x="658.0" y="480.6" font-size="8.6" fill="#333" textLength="23.5" lengthAdjust="spacingAndGlyphs" font-weight="500">2006/1</text>
<text x="687.0" y="480.6" font-size="8.6" fill="#333" textLength="26.0" lengthAdjust="spacingAndGlyphs" font-weight="500">2008/9</text>
<text x="716.0" y="480.6" font-size="8.6" fill="#333" textLength="26.0" lengthAdjust="spacingAndGlyphs" font-weight="500">2011/5</text>
<text x="744.0" y="480.6" font-size="8.6" fill="#333" textLength="24.0" lengthAdjust="spacingAndGlyphs" font-weight="500">2014/1</text>
<text x="772.0" y="480.6" font-size="8.6" fill="#333" textLength="25.0" lengthAdjust="spacingAndGlyphs" font-weight="500">2016/9</text>
<text x="800.0" y="480.6" font-size="8.6" fill="#333" textLength="26.0" lengthAdjust="spacingAndGlyphs" font-weight="500">2019/5</text>
<text x="828.0" y="480.6" font-size="8.6" fill="#333" textLength="24.0" lengthAdjust="spacingAndGlyphs" font-weight="500">2022/1</text>
<text x="856.0" y="480.6" font-size="8.6" fill="#333" textLength="25.0" lengthAdjust="spacingAndGlyphs" font-weight="500">2024/9</text>
<polyline points="735.0,409.9 740.0,407.9 745.0,411.9 748.0,415.9 752.0,413.9 756.0,407.9 760.0,405.9 765.0,403.9 770.0,403.2 793.5,442.5 799.4,396.4 805.0,394.0 810.0,394.0 815.0,394.0 820.0,394.0 825.0,392.0 830.0,394.0 838.0,390.1 845.0,386.1 850.0,390.1 855.0,394.0 860.0,396.0 863.0,400.0 866.0,390.1 870.0,394.0 875.0,394.0 880.0,392.0" fill="none" stroke="#3cb83c" stroke-width="1.1" stroke-linejoin="round" opacity="0.85"/>
<g fill="none" stroke="#3cb83c" stroke-width="0.9" opacity="0.8"><circle cx="735.0" cy="409.9" r="1.4"/><circle cx="740.0" cy="407.9" r="1.4"/><circle cx="745.0" cy="411.9" r="1.4"/><circle cx="748.0" cy="415.9" r="1.4"/><circle cx="752.0" cy="413.9" r="1.4"/><circle cx="756.0" cy="407.9" r="1.4"/><circle cx="760.0" cy="405.9" r="1.4"/><circle cx="765.0" cy="403.9" r="1.4"/><circle cx="770.0" cy="403.2" r="1.4"/><circle cx="793.5" cy="442.5" r="1.4"/><circle cx="799.4" cy="396.4" r="1.4"/><circle cx="805.0" cy="394.0" r="1.4"/><circle cx="810.0" cy="394.0" r="1.4"/><circle cx="815.0" cy="394.0" r="1.4"/><circle cx="820.0" cy="394.0" r="1.4"/><circle cx="825.0" cy="392.0" r="1.4"/><circle cx="830.0" cy="394.0" r="1.4"/><circle cx="838.0" cy="390.1" r="1.4"/><circle cx="845.0" cy="386.1" r="1.4"/><circle cx="850.0" cy="390.1" r="1.4"/><circle cx="855.0" cy="394.0" r="1.4"/><circle cx="860.0" cy="396.0" r="1.4"/><circle cx="863.0" cy="400.0" r="1.4"/><circle cx="866.0" cy="390.1" r="1.4"/><circle cx="870.0" cy="394.0" r="1.4"/><circle cx="875.0" cy="394.0" r="1.4"/><circle cx="880.0" cy="392.0" r="1.4"/></g>
<polyline points="725.0,417.8 728.0,423.8 731.0,411.9 734.0,419.8 737.0,407.9 740.0,409.9 743.0,415.9 745.0,425.8 748.0,411.9 751.0,407.9 754.0,413.9 757.0,405.9 760.0,437.7 763.0,405.9 766.0,403.9 769.0,415.9 772.0,421.8 775.0,405.9 778.0,403.9 780.0,435.7 783.0,405.9 786.0,403.9 789.0,413.9 792.0,400.0 795.0,403.9 798.0,411.9 801.0,403.9 804.0,409.9 807.0,411.9 810.0,405.9 813.0,403.9 816.0,409.9 819.0,405.9 822.0,411.9 825.0,407.9 828.0,394.0 831.0,403.9 834.0,402.0 837.0,407.9 840.0,402.0 843.0,400.0 846.0,405.9 849.0,407.9 852.0,409.9 855.0,411.9 858.0,413.9 861.0,396.0 863.0,407.9 866.0,413.9 869.0,407.9 872.0,411.9 875.0,411.9 878.0,403.9 880.0,396.0" fill="none" stroke="#ee33ee" stroke-width="1.1" stroke-linejoin="round" opacity="0.85"/>
<g fill="none" stroke="#ee33ee" stroke-width="0.9" opacity="0.8"><circle cx="725.0" cy="417.8" r="1.5"/><circle cx="728.0" cy="423.8" r="1.5"/><circle cx="731.0" cy="411.9" r="1.5"/><circle cx="734.0" cy="419.8" r="1.5"/><circle cx="737.0" cy="407.9" r="1.5"/><circle cx="740.0" cy="409.9" r="1.5"/><circle cx="743.0" cy="415.9" r="1.5"/><circle cx="745.0" cy="425.8" r="1.5"/><circle cx="748.0" cy="411.9" r="1.5"/><circle cx="751.0" cy="407.9" r="1.5"/><circle cx="754.0" cy="413.9" r="1.5"/><circle cx="757.0" cy="405.9" r="1.5"/><circle cx="760.0" cy="437.7" r="1.5"/><circle cx="763.0" cy="405.9" r="1.5"/><circle cx="766.0" cy="403.9" r="1.5"/><circle cx="769.0" cy="415.9" r="1.5"/><circle cx="772.0" cy="421.8" r="1.5"/><circle cx="775.0" cy="405.9" r="1.5"/><circle cx="778.0" cy="403.9" r="1.5"/><circle cx="780.0" cy="435.7" r="1.5"/><circle cx="783.0" cy="405.9" r="1.5"/><circle cx="786.0" cy="403.9" r="1.5"/><circle cx="789.0" cy="413.9" r="1.5"/><circle cx="792.0" cy="400.0" r="1.5"/><circle cx="795.0" cy="403.9" r="1.5"/><circle cx="798.0" cy="411.9" r="1.5"/><circle cx="801.0" cy="403.9" r="1.5"/><circle cx="804.0" cy="409.9" r="1.5"/><circle cx="807.0" cy="411.9" r="1.5"/><circle cx="810.0" cy="405.9" r="1.5"/><circle cx="813.0" cy="403.9" r="1.5"/><circle cx="816.0" cy="409.9" r="1.5"/><circle cx="819.0" cy="405.9" r="1.5"/><circle cx="822.0" cy="411.9" r="1.5"/><circle cx="825.0" cy="407.9" r="1.5"/><circle cx="828.0" cy="394.0" r="1.5"/><circle cx="831.0" cy="403.9" r="1.5"/><circle cx="834.0" cy="402.0" r="1.5"/><circle cx="837.0" cy="407.9" r="1.5"/><circle cx="840.0" cy="402.0" r="1.5"/><circle cx="843.0" cy="400.0" r="1.5"/><circle cx="846.0" cy="405.9" r="1.5"/><circle cx="849.0" cy="407.9" r="1.5"/><circle cx="852.0" cy="409.9" r="1.5"/><circle cx="855.0" cy="411.9" r="1.5"/><circle cx="858.0" cy="413.9" r="1.5"/><circle cx="861.0" cy="396.0" r="1.5"/><circle cx="863.0" cy="407.9" r="1.5"/><circle cx="866.0" cy="413.9" r="1.5"/><circle cx="869.0" cy="407.9" r="1.5"/><circle cx="872.0" cy="411.9" r="1.5"/><circle cx="875.0" cy="411.9" r="1.5"/><circle cx="878.0" cy="403.9" r="1.5"/><circle cx="880.0" cy="396.0" r="1.5"/></g>
<polyline points="728.0,402.0 732.0,403.9 736.0,403.9 740.0,403.9 744.0,403.9 748.0,402.0 752.0,400.0 756.0,403.9 760.0,400.0 764.0,402.0 768.0,394.0 772.0,396.0 776.0,392.0 780.0,386.1 784.0,392.0 788.0,376.2 792.0,382.1 796.0,378.1 800.0,386.1 804.0,390.1 808.0,384.1 812.0,388.1 816.0,384.1 820.0,390.1 824.0,396.0 828.0,368.2 832.0,358.3 835.0,352.3 838.0,362.3 841.0,372.2 845.0,380.1 848.0,390.1 852.0,372.2 856.0,368.2 860.0,372.2 863.0,415.9 866.0,376.2 868.0,372.2" fill="none" stroke="#3a5cff" stroke-width="1.1" stroke-linejoin="round" opacity="0.85"/>
<g fill="none" stroke="#3a5cff" stroke-width="0.9" opacity="0.8"><circle cx="728.0" cy="402.0" r="1.5"/><circle cx="732.0" cy="403.9" r="1.5"/><circle cx="736.0" cy="403.9" r="1.5"/><circle cx="740.0" cy="403.9" r="1.5"/><circle cx="744.0" cy="403.9" r="1.5"/><circle cx="748.0" cy="402.0" r="1.5"/><circle cx="752.0" cy="400.0" r="1.5"/><circle cx="756.0" cy="403.9" r="1.5"/><circle cx="760.0" cy="400.0" r="1.5"/><circle cx="764.0" cy="402.0" r="1.5"/><circle cx="768.0" cy="394.0" r="1.5"/><circle cx="772.0" cy="396.0" r="1.5"/><circle cx="776.0" cy="392.0" r="1.5"/><circle cx="780.0" cy="386.1" r="1.5"/><circle cx="784.0" cy="392.0" r="1.5"/><circle cx="788.0" cy="376.2" r="1.5"/><circle cx="792.0" cy="382.1" r="1.5"/><circle cx="796.0" cy="378.1" r="1.5"/><circle cx="800.0" cy="386.1" r="1.5"/><circle cx="804.0" cy="390.1" r="1.5"/><circle cx="808.0" cy="384.1" r="1.5"/><circle cx="812.0" cy="388.1" r="1.5"/><circle cx="816.0" cy="384.1" r="1.5"/><circle cx="820.0" cy="390.1" r="1.5"/><circle cx="824.0" cy="396.0" r="1.5"/><circle cx="828.0" cy="368.2" r="1.5"/><circle cx="832.0" cy="358.3" r="1.5"/><circle cx="835.0" cy="352.3" r="1.5"/><circle cx="838.0" cy="362.3" r="1.5"/><circle cx="841.0" cy="372.2" r="1.5"/><circle cx="845.0" cy="380.1" r="1.5"/><circle cx="848.0" cy="390.1" r="1.5"/><circle cx="852.0" cy="372.2" r="1.5"/><circle cx="856.0" cy="368.2" r="1.5"/><circle cx="860.0" cy="372.2" r="1.5"/><circle cx="863.0" cy="415.9" r="1.5"/><circle cx="866.0" cy="376.2" r="1.5"/><circle cx="868.0" cy="372.2" r="1.5"/></g>
<polyline points="727.0,398.0 730.0,394.0 733.0,400.0 736.0,390.1 740.0,396.0 743.0,402.0 746.0,394.0 748.0,388.1 752.0,396.0 756.0,394.0 760.0,392.0 764.0,394.0 768.0,384.1 772.0,376.2 776.0,366.2 779.0,362.3 782.0,360.3 785.0,352.3 788.0,354.3 791.0,358.3 795.0,360.3 799.0,364.2 803.0,366.2 806.0,370.2 810.0,364.2 814.0,364.2 818.0,362.3 821.0,360.3 824.0,364.2 827.0,348.4 829.0,344.4 831.0,340.4 833.0,352.3 836.0,332.5 840.0,308.7 842.0,328.5 844.0,336.5 846.0,332.5 848.0,360.3 850.0,378.1 853.0,368.2 857.0,390.1 860.0,368.2 862.0,360.3 865.0,352.3 868.0,376.2" fill="none" stroke="#ff3a3a" stroke-width="1.1" stroke-linejoin="round" opacity="0.85"/>
<g fill="none" stroke="#ff3a3a" stroke-width="0.9" opacity="0.8"><circle cx="727.0" cy="398.0" r="1.5"/><circle cx="730.0" cy="394.0" r="1.5"/><circle cx="733.0" cy="400.0" r="1.5"/><circle cx="736.0" cy="390.1" r="1.5"/><circle cx="740.0" cy="396.0" r="1.5"/><circle cx="743.0" cy="402.0" r="1.5"/><circle cx="746.0" cy="394.0" r="1.5"/><circle cx="748.0" cy="388.1" r="1.5"/><circle cx="752.0" cy="396.0" r="1.5"/><circle cx="756.0" cy="394.0" r="1.5"/><circle cx="760.0" cy="392.0" r="1.5"/><circle cx="764.0" cy="394.0" r="1.5"/><circle cx="768.0" cy="384.1" r="1.5"/><circle cx="772.0" cy="376.2" r="1.5"/><circle cx="776.0" cy="366.2" r="1.5"/><circle cx="779.0" cy="362.3" r="1.5"/><circle cx="782.0" cy="360.3" r="1.5"/><circle cx="785.0" cy="352.3" r="1.5"/><circle cx="788.0" cy="354.3" r="1.5"/><circle cx="791.0" cy="358.3" r="1.5"/><circle cx="795.0" cy="360.3" r="1.5"/><circle cx="799.0" cy="364.2" r="1.5"/><circle cx="803.0" cy="366.2" r="1.5"/><circle cx="806.0" cy="370.2" r="1.5"/><circle cx="810.0" cy="364.2" r="1.5"/><circle cx="814.0" cy="364.2" r="1.5"/><circle cx="818.0" cy="362.3" r="1.5"/><circle cx="821.0" cy="360.3" r="1.5"/><circle cx="824.0" cy="364.2" r="1.5"/><circle cx="827.0" cy="348.4" r="1.5"/><circle cx="829.0" cy="344.4" r="1.5"/><circle cx="831.0" cy="340.4" r="1.5"/><circle cx="833.0" cy="352.3" r="1.5"/><circle cx="836.0" cy="332.5" r="1.5"/><circle cx="840.0" cy="308.7" r="1.5"/><circle cx="842.0" cy="328.5" r="1.5"/><circle cx="844.0" cy="336.5" r="1.5"/><circle cx="846.0" cy="332.5" r="1.5"/><circle cx="848.0" cy="360.3" r="1.5"/><circle cx="850.0" cy="378.1" r="1.5"/><circle cx="853.0" cy="368.2" r="1.5"/><circle cx="857.0" cy="390.1" r="1.5"/><circle cx="860.0" cy="368.2" r="1.5"/><circle cx="862.0" cy="360.3" r="1.5"/><circle cx="865.0" cy="352.3" r="1.5"/><circle cx="868.0" cy="376.2" r="1.5"/></g>
<polyline points="725.0,405.3 727.0,409.2 729.0,398.9 731.0,403.5 733.0,395.3 735.0,403.5 737.0,393.1 738.7,394.6 740.0,394.9 741.7,396.8 743.0,400.1 744.7,397.2 746.0,390.1 747.5,394.8 749.0,393.8 750.3,395.1 752.0,396.2 753.7,389.9 755.0,390.6 756.5,390.9 758.0,393.1 760.0,421.5 762.0,395.3 763.2,394.3 765.0,390.2 766.7,389.7 768.0,387.1 769.3,383.6 771.0,381.8 772.4,377.0 774.0,370.4 775.6,368.1 777.0,361.9 778.5,371.3 780.0,377.8 781.2,368.9 783.0,362.7 784.7,367.6 786.0,376.2 787.6,371.3 789.0,368.2 790.5,365.3 792.0,362.1 793.7,368.8 795.0,375.1 796.5,369.8 798.0,366.2 799.7,376.1 801.0,381.5 802.5,382.9 804.0,387.7 805.4,377.6 807.0,373.1 808.4,375.2 810.0,374.3 811.4,374.1 813.0,375.3 814.4,376.1 816.0,372.4 817.7,371.0 819.0,373.4 820.4,375.5 822.0,371.2 823.5,375.4 825.0,376.4 826.8,376.5 828.0,370.8 830.0,385.5 832.0,363.7 833.4,371.2 835.0,376.0 836.4,369.2 838.0,360.8 840.0,329.7 842.0,361.4 844.0,349.8 846.0,363.1 848.0,361.1 850.0,366.1 851.6,364.0 853.0,361.1 854.3,362.7 856.0,369.9 858.0,350.3 860.0,363.4 862.0,426.8 864.0,365.8 866.0,360.7 867.6,361.7 869.0,368.2 870.3,366.5 872.0,366.0 873.2,357.7 875.0,348.4 877.0,364.6 878.6,364.2 880.0,364.2" fill="none" stroke="#555555" stroke-width="1.1" stroke-linejoin="round" opacity="0.85"/>
<g fill="none" stroke="#555555" stroke-width="0.9" opacity="0.8"><circle cx="725.0" cy="405.3" r="1.6"/><circle cx="727.0" cy="409.2" r="1.6"/><circle cx="729.0" cy="398.9" r="1.6"/><circle cx="731.0" cy="403.5" r="1.6"/><circle cx="733.0" cy="395.3" r="1.6"/><circle cx="735.0" cy="403.5" r="1.6"/><circle cx="737.0" cy="393.1" r="1.6"/><circle cx="738.7" cy="394.6" r="1.6"/><circle cx="740.0" cy="394.9" r="1.6"/><circle cx="741.7" cy="396.8" r="1.6"/><circle cx="743.0" cy="400.1" r="1.6"/><circle cx="744.7" cy="397.2" r="1.6"/><circle cx="746.0" cy="390.1" r="1.6"/><circle cx="747.5" cy="394.8" r="1.6"/><circle cx="749.0" cy="393.8" r="1.6"/><circle cx="750.3" cy="395.1" r="1.6"/><circle cx="752.0" cy="396.2" r="1.6"/><circle cx="753.7" cy="389.9" r="1.6"/><circle cx="755.0" cy="390.6" r="1.6"/><circle cx="756.5" cy="390.9" r="1.6"/><circle cx="758.0" cy="393.1" r="1.6"/><circle cx="760.0" cy="421.5" r="1.6"/><circle cx="762.0" cy="395.3" r="1.6"/><circle cx="763.2" cy="394.3" r="1.6"/><circle cx="765.0" cy="390.2" r="1.6"/><circle cx="766.7" cy="389.7" r="1.6"/><circle cx="768.0" cy="387.1" r="1.6"/><circle cx="769.3" cy="383.6" r="1.6"/><circle cx="771.0" cy="381.8" r="1.6"/><circle cx="772.4" cy="377.0" r="1.6"/><circle cx="774.0" cy="370.4" r="1.6"/><circle cx="775.6" cy="368.1" r="1.6"/><circle cx="777.0" cy="361.9" r="1.6"/><circle cx="778.5" cy="371.3" r="1.6"/><circle cx="780.0" cy="377.8" r="1.6"/><circle cx="781.2" cy="368.9" r="1.6"/><circle cx="783.0" cy="362.7" r="1.6"/><circle cx="784.7" cy="367.6" r="1.6"/><circle cx="786.0" cy="376.2" r="1.6"/><circle cx="787.6" cy="371.3" r="1.6"/><circle cx="789.0" cy="368.2" r="1.6"/><circle cx="790.5" cy="365.3" r="1.6"/><circle cx="792.0" cy="362.1" r="1.6"/><circle cx="793.7" cy="368.8" r="1.6"/><circle cx="795.0" cy="375.1" r="1.6"/><circle cx="796.5" cy="369.8" r="1.6"/><circle cx="798.0" cy="366.2" r="1.6"/><circle cx="799.7" cy="376.1" r="1.6"/><circle cx="801.0" cy="381.5" r="1.6"/><circle cx="802.5" cy="382.9" r="1.6"/><circle cx="804.0" cy="387.7" r="1.6"/><circle cx="805.4" cy="377.6" r="1.6"/><circle cx="807.0" cy="373.1" r="1.6"/><circle cx="808.4" cy="375.2" r="1.6"/><circle cx="810.0" cy="374.3" r="1.6"/><circle cx="811.4" cy="374.1" r="1.6"/><circle cx="813.0" cy="375.3" r="1.6"/><circle cx="814.4" cy="376.1" r="1.6"/><circle cx="816.0" cy="372.4" r="1.6"/><circle cx="817.7" cy="371.0" r="1.6"/><circle cx="819.0" cy="373.4" r="1.6"/><circle cx="820.4" cy="375.5" r="1.6"/><circle cx="822.0" cy="371.2" r="1.6"/><circle cx="823.5" cy="375.4" r="1.6"/><circle cx="825.0" cy="376.4" r="1.6"/><circle cx="826.8" cy="376.5" r="1.6"/><circle cx="828.0" cy="370.8" r="1.6"/><circle cx="830.0" cy="385.5" r="1.6"/><circle cx="832.0" cy="363.7" r="1.6"/><circle cx="833.4" cy="371.2" r="1.6"/><circle cx="835.0" cy="376.0" r="1.6"/><circle cx="836.4" cy="369.2" r="1.6"/><circle cx="838.0" cy="360.8" r="1.6"/><circle cx="840.0" cy="329.7" r="1.6"/><circle cx="842.0" cy="361.4" r="1.6"/><circle cx="844.0" cy="349.8" r="1.6"/><circle cx="846.0" cy="363.1" r="1.6"/><circle cx="848.0" cy="361.1" r="1.6"/><circle cx="850.0" cy="366.1" r="1.6"/><circle cx="851.6" cy="364.0" r="1.6"/><circle cx="853.0" cy="361.1" r="1.6"/><circle cx="854.3" cy="362.7" r="1.6"/><circle cx="856.0" cy="369.9" r="1.6"/><circle cx="858.0" cy="350.3" r="1.6"/><circle cx="860.0" cy="363.4" r="1.6"/><circle cx="862.0" cy="426.8" r="1.6"/><circle cx="864.0" cy="365.8" r="1.6"/><circle cx="866.0" cy="360.7" r="1.6"/><circle cx="867.6" cy="361.7" r="1.6"/><circle cx="869.0" cy="368.2" r="1.6"/><circle cx="870.3" cy="366.5" r="1.6"/><circle cx="872.0" cy="366.0" r="1.6"/><circle cx="873.2" cy="357.7" r="1.6"/><circle cx="875.0" cy="348.4" r="1.6"/><circle cx="877.0" cy="364.6" r="1.6"/><circle cx="878.6" cy="364.2" r="1.6"/><circle cx="880.0" cy="364.2" r="1.6"/></g>
<polygon points="556.6,316.4 559.4,316.4 560.6,470 557.6,470" fill="#5596d6"/>
<polygon points="569.0,316.4 571.8,316.4 573.0,470 570.2,470" fill="#5596d6"/></svg>
<div class="ln" id="ti" style="left:14.77px;top:10.10px;font-size:25.5px;color:#7535a8;font-weight:500;transform:scaleX(1.1642)">입지 좋은 수영구, 구축 어디까지 투자 가능할까?</div>
<div class="ln" id="g1" style="left:15.87px;top:95.30px;font-size:23.5px;color:#1F3864;font-weight:500;transform:scaleX(1.1341)">주장</div>
<div class="ln" id="g2" style="left:923.77px;top:95.20px;font-size:23.5px;color:#1F3864;font-weight:500;transform:scaleX(1.1125)">결론</div>
<div class="ln" id="g3" style="left:16.52px;top:566.10px;font-size:23.5px;color:#1F3864;font-weight:500;transform:scaleX(1.0829)">적용</div>
<div class="ln" id="l1" style="left:23.13px;top:216.00px;font-size:17.0px;color:#1F3864;transform:scaleX(1.1686)">입지, 연식 둘 다 떨어지는 <span class="sp">망미를</span> 제외하</div>
<div class="ln" id="l2" style="left:25.22px;top:239.07px;font-size:17.0px;color:#1F3864;transform:scaleX(1.1759)">고는 입지 좋은&nbsp; <span class="sp">수영구기에</span> 구축도 투자</div>
<div class="ln" id="l3" style="left:152.40px;top:262.14px;font-size:17.0px;color:#1F3864;transform:scaleX(1.1951)">가능하다</div>
<div class="ln" id="l4" style="left:16.42px;top:308.28px;font-size:17.0px;color:#1F3864;transform:scaleX(1.1828)">남천동 <span class="sp">남천동동원로얄듀크</span> <span class="l" style="margin-right:-17.16px">'00 4.8/2.5</span></div>
<div class="ln" id="l5" style="left:16.43px;top:331.35px;font-size:17.0px;color:#1F3864;transform:scaleX(1.1729)"><span class="sp">광안동</span> <span class="sp">비치그린</span> <span class="l" style="margin-right:-17.16px">'96 3.6/2.5</span></div>
<div class="ln" id="l6" style="left:16.44px;top:354.42px;font-size:17.0px;color:#1F3864;transform:scaleX(1.1554)"><span class="sp">민락동</span> <span class="sp">진로비치<span class="l" style="margin-right:-2.06px">1</span></span>단지 <span class="l" style="margin-right:-17.16px">'97 4.8/2.2</span></div>
<div class="ln" id="l7" style="left:16.47px;top:377.49px;font-size:17.0px;color:#1F3864;transform:scaleX(1.1338)"><span class="sp">망미동</span> <span class="sp">현대한누리</span> <span class="l" style="margin-right:-27.64px">'93 2.3/1.7 - 3.16</span></div>
<div class="ln" id="r1" style="left:924.12px;top:181.30px;font-size:17.0px;color:#1F3864;transform:scaleX(1.1757)"><span class="sp">망미</span> 이상의 입지 구축까진 투자가능하다!</div>
<div class="ln" id="r3" style="left:924.12px;top:227.20px;font-size:17.0px;color:#1F3864;transform:scaleX(1.1806)">특히 <span class="sp">남천동원로얄듀크는</span> <span class="sp">상승장</span> 때 오르</div>
<div class="ln" id="r4" style="left:924.43px;top:250.90px;font-size:17.0px;color:#1F3864;transform:scaleX(1.1700)">는 힘 자체가 다르다. 땅의 입지를 느낄 수</div>
<div class="ln" id="r5" style="left:924.45px;top:274.10px;font-size:17.0px;color:#1F3864;transform:scaleX(1.1471)">있다.</div>
<div class="ln" id="r7" style="left:924.24px;top:320.50px;font-size:17.0px;color:#1F3864;transform:scaleX(1.1641)">비치그린이나 <span class="sp">진로비치<span class="l" style="margin-right:-2.06px">1</span></span>단지가 <span class="l" style="margin-right:-4.12px">20</span>년 <span class="l" style="margin-right:-2.06px">6</span>월</div>
<div class="ln" id="r8" style="left:924.43px;top:343.70px;font-size:17.0px;color:#1F3864;transform:scaleX(1.1670)">에 상승 시작하는 반면 <span class="sp">로얄듀크는</span> <span class="sp"><span class="l" style="margin-right:-2.06px">1</span>년전</span></div>
<div class="ln" id="r9" style="left:924.45px;top:366.90px;font-size:17.0px;color:#1F3864;transform:scaleX(1.1523)"><span class="sp">인</span> <span class="l" style="margin-right:-4.12px">19</span>년 <span class="l" style="margin-right:-2.06px">6</span>월부터 상승하기 시작</div>
<div class="ln" id="r10" style="left:924.22px;top:390.10px;font-size:17.0px;color:#1F3864;transform:scaleX(1.1826)"><span class="sp">상승흐름도</span> 빠른 편</div>
<div class="ln" id="b1" style="left:166.03px;top:608.30px;font-size:17.0px;color:#7434a8;transform:scaleX(1.1742)">벗, <span class="sp">망미이진캐스빌같은</span> 단지가 <span class="sp">매매가는</span> 비슷한데 전세 <span class="l" style="margin-right:-2.06px">3</span>억 받쳐주는 반면, <span class="sp">로얄듀크는</span> 전세가가 <span class="l" style="margin-right:-2.06px">2</span>억 정도로 낮기에</div>
<div class="ln" id="b2" style="left:159.53px;top:630.60px;font-size:17.0px;color:#7434a8;transform:scaleX(1.1717)">투자금도 많이 들 뿐 더러 같은 투자금이면 하위 <span class="sp">급지의</span> 신축 더 찾아볼 수 있다 <span class="l" style="margin-right:-5.34px">Ex.</span> 부산진구 <span class="sp">포레나초읍</span> <span class="l" style="margin-right:-17.27px">‘20 5.2/3.2</span></div>
<div class="ln" id="b3" style="left:354.83px;top:654.80px;font-size:17.0px;color:#7434a8;transform:scaleX(1.1729)">이런 애들이 <span class="sp">매전차도</span> 적고, 수리비도 <span class="sp">덜들어</span> 투자수익면에서 유리하다</div>
</body></html>
